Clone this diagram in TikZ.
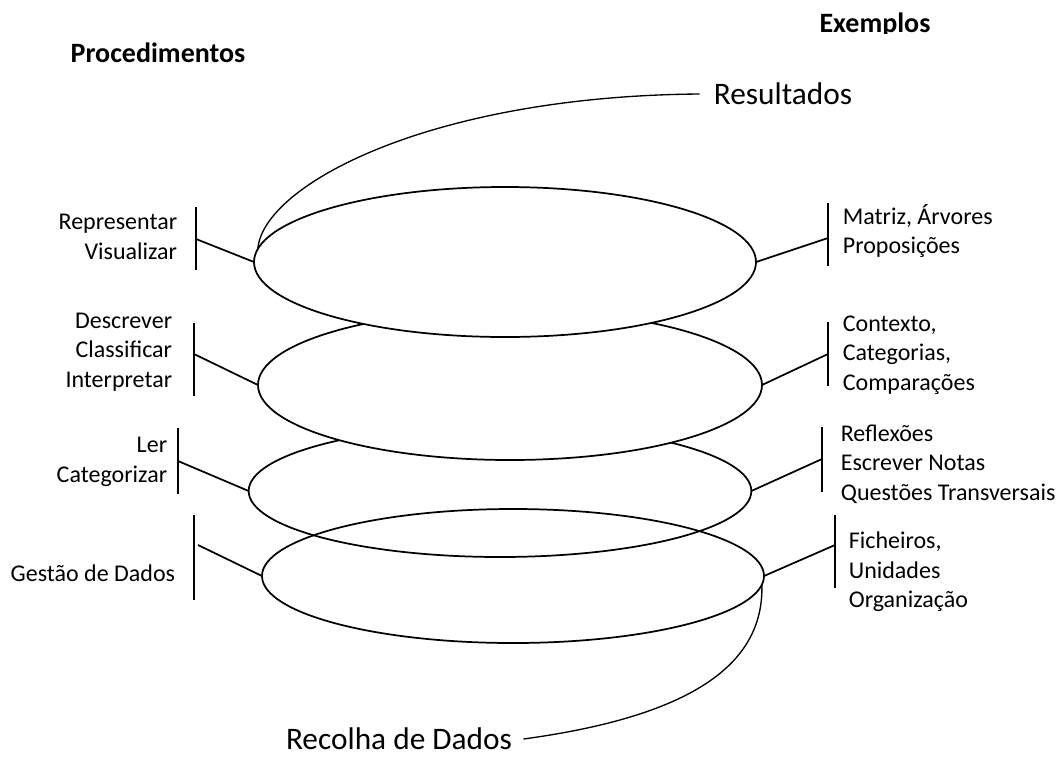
\documentclass[tikz,border=0pt]{standalone}
\usepackage{fontspec}
\setmainfont{Carlito}
\usepackage{tikz}
\usetikzlibrary{shapes.geometric}

\begin{document}
\begin{tikzpicture}[x=0.75pt,y=-0.75pt,line width=1.3pt,
		ring/.style={ellipse,draw,inner sep=0pt,outer sep=0pt},
		lefttext/.style={anchor=east,align=right,inner sep=0pt,font=\fontsize{18}{22}\selectfont},
		righttext/.style={anchor=west,align=left,inner sep=0pt,font=\fontsize{18}{22}\selectfont},
		bigtext/.style={inner sep=0pt,font=\fontsize{23.5}{28}\selectfont},
		headtext/.style={anchor=base,inner sep=0pt,font=\fontsize{21}{25}\selectfont\bfseries}]
			\useasboundingbox (0,0) rectangle (1061,758);

			% The headers
			\node[headtext] (proc) at (158,62) {Procedimentos};
			\begin{scope}
				\clip (700,0) rectangle (1061,33);
				\node[headtext] (exem) at (875,32) {Exemplos};
			\end{scope}

			% The levels, lower ones first
			\node[ring,fill=white,minimum width=377pt,minimum height=99pt] (e3) at (500,491) {};
			\node[ring,minimum width=376.5pt,minimum height=100.5pt] (e4) at (513,576) {};
			\node[ring,fill=white,minimum width=378pt,minimum height=112.5pt] (e2) at (510,385) {};
			\node[ring,fill=white,minimum width=376.5pt,minimum height=112.5pt] (e1) at (505,262) {};

			% Top and bottom
			\node[bigtext,anchor=west] (res) at (713,94) {Resultados};
			\node[bigtext] (rec) at (399,739) {Recolha de Dados};
			\draw[line width=1pt] (e1.177) .. controls (263,185) and (430,96) .. ([xshift=-10pt]res.west);
			\draw[line width=1pt] (e4.-2) .. controls (764,660) and (700,715) .. ([xshift=8pt]rec.east);

			% Procedimentos
			\node[lefttext] (rv) at (178,237) {Representar\\Visualizar};
			\draw (196,207) -- (196,270);
			\coordinate (l1) at (196,239);
			\draw (l1) -- (e1.west);

			\node[lefttext] (dci) at (173,352) {Descrever\\Classificar\\Interpretar};
			\draw (194,323) -- (194,396);
			\coordinate (l2) at (194,354);
			\draw (l2) -- (e2.west);

			\node[lefttext] (lc) at (168,462) {Ler\\Categorizar};
			\draw (178,428) -- (178,494);
			\coordinate (l3) at (178,461);
			\draw (l3) -- (e3.west);

			\node[lefttext] (gd) at (176,573) {Gestão de Dados};
			\draw (194,515) -- (194,600);
			\coordinate (l4) at (198,545);
			\draw (l4) -- (e4.west);

			% Exemplos
			\node[righttext] (ma) at (842,231) {Matriz, Árvores\\Proposições};
			\draw (828,203) -- (828,266);
			\coordinate (r1) at (828,238);
			\draw (e1.east) -- (r1);

			\node[righttext] (cc) at (842,355) {Contexto,\\Categorias,\\Comparações};
			\draw (828,322) -- (828,386);
			\coordinate (r2) at (828,354);
			\draw (e2.east) -- (r2);

			\node[righttext] (rq) at (840,464) {Reflexões\\Escrever Notas\\Questões Transversais};
			\draw (822,427) -- (822,492);
			\coordinate (r3) at (822,459);
			\draw (e3.east) -- (r3);

			\node[righttext] (fu) at (848,572) {Ficheiros,\\Unidades\\Organização};
			\draw (835,515) -- (835,588);
			\coordinate (r4) at (835,545);
			\draw (e4.east) -- (r4);
		\end{tikzpicture}
\end{document}
